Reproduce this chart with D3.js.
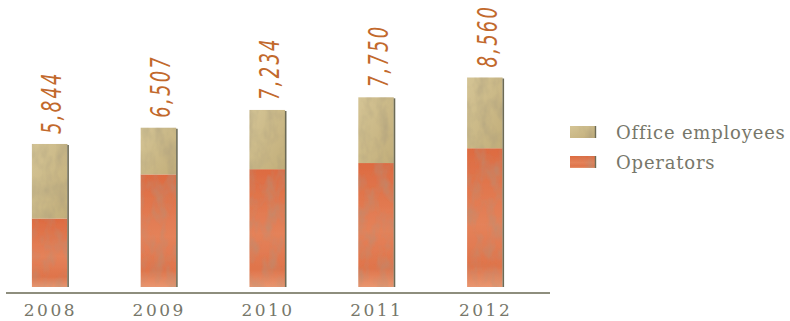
<!DOCTYPE html>
<html><head><meta charset="utf-8">
<script src="https://cdn.jsdelivr.net/npm/d3@7"></script>
<style>
html,body{margin:0;padding:0;background:#fff;}
svg{display:block;}
</style></head>
<body>
<svg id="chart" width="790" height="321"></svg>
<script>
const years = ["2008","2009","2010","2011","2012"];
const operators = [2800, 4600, 4815, 5065, 5670];
const totals = [5844, 6507, 7234, 7750, 8560];
const totalLabels = ["5,844","6,507","7,234","7,750","8,560"];
const officeEmployees = totals.map((t,i)=>t-operators[i]);
const seriesNames = ["Office employees","Operators"];
const seriesColors = ["#c9b887","#e27b52"];

const svg = d3.select("#chart");
const defs = svg.append("defs");

// watercolor-ish texture
const f = defs.append("filter").attr("id","tex").attr("x","0").attr("y","0").attr("width","1").attr("height","1");
f.append("feTurbulence").attr("type","fractalNoise").attr("baseFrequency","0.09 0.05").attr("numOctaves",3).attr("seed",4).attr("result","noise");
f.append("feColorMatrix").attr("in","noise").attr("type","matrix")
 .attr("values","0 0 0 0 0.35  0 0 0 0 0.3  0 0 0 0 0.2  0 0 0 0.9 -0.35").attr("result","spots");
f.append("feComposite").attr("in","spots").attr("in2","SourceGraphic").attr("operator","in").attr("result","spotsIn");
const fm = f.append("feMerge");
fm.append("feMergeNode").attr("in","SourceGraphic");
fm.append("feMergeNode").attr("in","spotsIn");

const gOp = defs.append("linearGradient").attr("id","gOp").attr("x1",0).attr("y1",0).attr("x2",0).attr("y2",1);
gOp.append("stop").attr("offset","0%").attr("stop-color","#dd6b41");
gOp.append("stop").attr("offset","55%").attr("stop-color","#e4825a");
gOp.append("stop").attr("offset","85%").attr("stop-color","#df744b");
gOp.append("stop").attr("offset","100%").attr("stop-color","#e89670");
const gOf = defs.append("linearGradient").attr("id","gOf").attr("x1",0).attr("y1",0).attr("x2",1).attr("y2",1);
gOf.append("stop").attr("offset","0%").attr("stop-color","#d4c495");
gOf.append("stop").attr("offset","100%").attr("stop-color","#c2ae7a");
const fills = ["url(#gOf)","url(#gOp)"];

const x = d3.scaleBand().domain(years).range([-4, 540]).paddingInner(0.66).paddingOuter(0.33);
const y = d3.scaleLinear().domain([0, 8560]).range([287, 77.5]);

const stacked = years.map((yr,i)=>({year:yr, op:operators[i], of:officeEmployees[i], total:totals[i], label:totalLabels[i]}));

const g = svg.append("g");
// operators
g.selectAll("rect.op").data(stacked).join("rect").attr("class","op")
 .attr("x", d=>x(d.year)).attr("width", x.bandwidth()-1.5)
 .attr("y", d=>y(d.op)).attr("height", d=>y(0)-y(d.op))
 .attr("fill", fills[1]).attr("filter","url(#tex)");
// office
g.selectAll("rect.of").data(stacked).join("rect").attr("class","of")
 .attr("x", d=>x(d.year)).attr("width", x.bandwidth()-1.5)
 .attr("y", d=>y(d.total)).attr("height", d=>y(d.op)-y(d.total))
 .attr("fill", fills[0]).attr("filter","url(#tex)");
// right shadow edge
g.selectAll("line.edge").data(stacked).join("line").attr("class","edge")
 .attr("x1", d=>x(d.year)+x.bandwidth()-0.8).attr("x2", d=>x(d.year)+x.bandwidth()-0.8)
 .attr("y1", d=>y(d.total)+1).attr("y2", y(0))
 .attr("stroke","#6c6a55").attr("stroke-width",1.6);

// axis
const axis = d3.axisBottom(x).tickSize(0).tickPadding(10);
const ax = svg.append("g").attr("transform","translate(0,293)").call(axis);
ax.select(".domain").attr("d","M6,0H550").attr("stroke","#8e8e7e").attr("stroke-width",2);
ax.selectAll(".tick text").attr("font-family","'DejaVu Serif', serif").attr("font-size",17)
 .attr("letter-spacing","2.5px").attr("fill","#77776a").attr("dy","0.75em");

// total labels
g.selectAll("text.tot").data(stacked).join("text").attr("class","tot")
 .attr("transform", d=>`translate(${x(d.year)+x.bandwidth()/2+11},${y(d.total)-10}) rotate(-90) scale(0.9,1.3)`)
 .attr("text-anchor","start")
 .attr("font-family","'DejaVu Sans', sans-serif").attr("font-style","italic").attr("font-weight",200)
 .attr("font-size",20).attr("letter-spacing","2.5px").attr("fill","#c2692c")
 .text(d=>d.label);

// legend
const leg = svg.append("g").attr("transform","translate(570,126)");
seriesNames.forEach((n,i)=>{
  const r = leg.append("g").attr("transform",`translate(0,${i*30})`);
  r.append("rect").attr("width",26).attr("height",12).attr("fill",fills[i]).attr("filter","url(#tex)");
  r.append("line").attr("x1",25.5).attr("x2",25.5).attr("y1",0).attr("y2",12).attr("stroke","#6c6a55").attr("stroke-width",1.4);
  r.append("text").attr("x",46).attr("y",13).attr("font-family","'DejaVu Serif', serif").attr("font-size",18)
   .attr("letter-spacing","0.8px").attr("fill","#77776a").text(n);
});
</script>
</body></html>
